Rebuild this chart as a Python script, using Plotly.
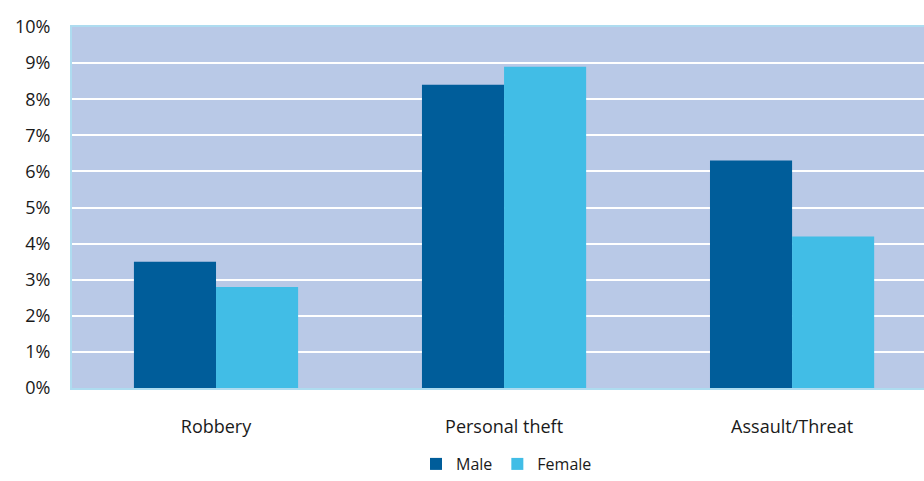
import plotly.graph_objects as go

# Data
categories = ['Robbery', 'Personal theft', 'Assault/Threat']
male = [3.5, 8.4, 6.3]
female = [2.8, 8.9, 4.2]
y_ticks = [0, 1, 2, 3, 4, 5, 6, 7, 8, 9, 10]
y_labels = [f'{v}%' for v in y_ticks]

colors = {'Male': '#005d9a', 'Female': '#41bde6'}

fig = go.Figure()
fig.add_trace(go.Bar(name='Male', x=categories, y=male,
                     marker=dict(color=colors['Male'], line_width=0)))
fig.add_trace(go.Bar(name='Female', x=categories, y=female,
                     marker=dict(color=colors['Female'], line_width=0)))

fig.update_layout(
    width=924, height=481,
    barmode='group',
    bargap=0.43, bargroupgap=0,
    margin=dict(l=72, r=0, t=27, b=93, autoexpand=False),
    paper_bgcolor='white',
    plot_bgcolor='#b9c9e7',
    font=dict(family='Open Sans, sans-serif', size=18, color='#1a1a1a'),
    showlegend=True,
    legend=dict(orientation='h', xanchor='center', x=0.51,
                yref='container', yanchor='bottom', y=-0.01,
                font=dict(size=16), itemwidth=30, tracegroupgap=0),
)

fig.update_xaxes(
    range=[-0.5, 2.458],
    showgrid=False, ticks='', ticklabelstandoff=21,
    showline=True, linecolor='#aedcf0', linewidth=2, mirror=True,
)
fig.update_yaxes(
    range=[0, 10], tickvals=y_ticks, ticktext=y_labels,
    showgrid=True, gridcolor='white', gridwidth=2,
    zeroline=False, ticks='', ticklabelstandoff=16,
    showline=True, linecolor='#aedcf0', linewidth=2, mirror=True,
)

# page body has a default 8px margin; drop it so the figure sits at 0,0
fig.write_html('out.html', config={'displayModeBar': False},
               post_script="document.body.style.margin='0';")
